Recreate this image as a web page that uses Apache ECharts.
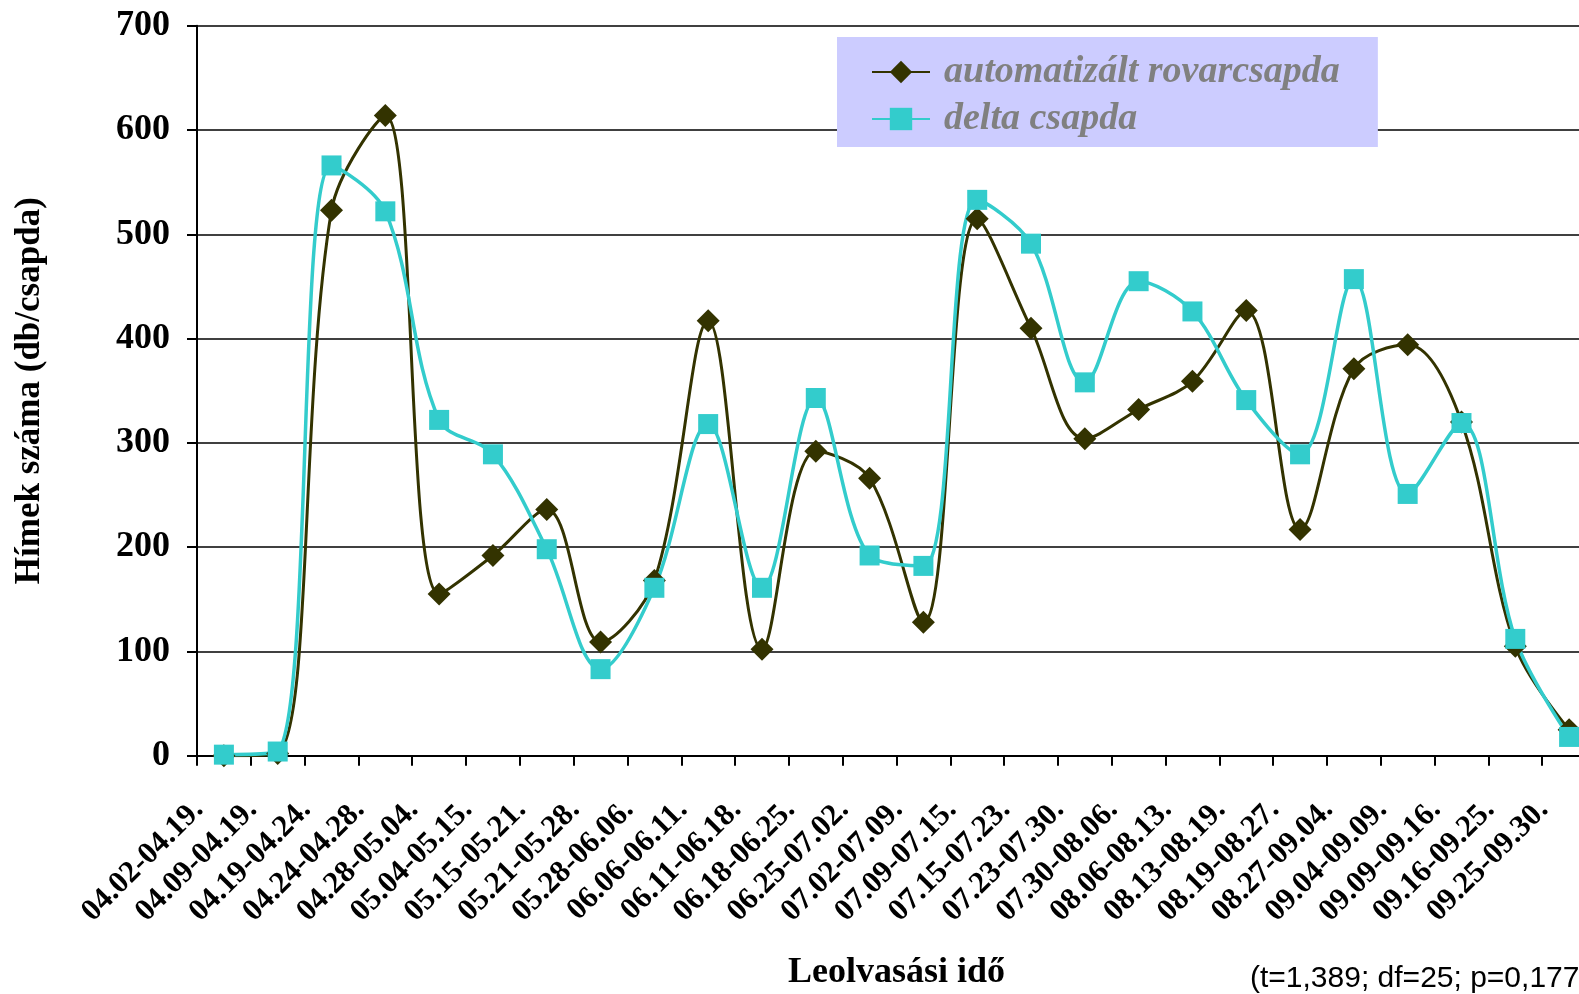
<!DOCTYPE html>
<html>
<head>
<meta charset="utf-8">
<script src="https://cdn.jsdelivr.net/npm/echarts@6/dist/echarts.min.js"></script>
<style>
  html, body { margin: 0; padding: 0; background: #fff; }
  #chart { width: 1579px; height: 994px; }
</style>
</head>
<body>
<div id="chart"></div>
<script>
const periods = ["04.02-04.19.", "04.09-04.19.", "04.19-04.24.", "04.24-04.28.", "04.28-05.04.", "05.04-05.15.", "05.15-05.21.", "05.21-05.28.", "05.28-06.06.", "06.06-06.11.", "06.11-06.18.", "06.18-06.25.", "06.25-07.02.", "07.02-07.09.", "07.09-07.15.", "07.15-07.23.", "07.23-07.30.", "07.30-08.06.", "08.06-08.13.", "08.13-08.19.", "08.19-08.27.", "08.27-09.04.", "09.04-09.09.", "09.09-09.16.", "09.16-09.25.", "09.25-09.30."];
const autoTrap = [0, 2, 523, 614, 155, 192, 236, 109, 168, 417, 102, 292, 266, 128, 515, 410, 304, 332, 359, 427, 217, 371, 394, 320, 105, 25];
const deltaTrap = [1, 4, 566, 522, 322, 289, 198, 83, 161, 318, 161, 343, 192, 182, 533, 491, 358, 455, 426, 341, 289, 457, 251, 319, 112, 18];
const yTicks = [0, 700, 100];

const serif = "'Liberation Serif', 'Times New Roman', serif";
const chart = echarts.init(document.getElementById("chart"));

chart.setOption({
  animation: false,
  // plot runs past the right edge of the picture, as in the original
  grid: { left: 197, width: 1399, top: 25.7, bottom: 238.3, outerBoundsMode: "none" },
  legend: {
    orient: "vertical",
    left: 837,
    top: 37,
    backgroundColor: "#CCCCFF",
    padding: [16, 38, 9, 34],
    itemGap: 9,
    itemWidth: 58,
    itemHeight: 28,
    textStyle: { fontFamily: serif, fontSize: 38, fontStyle: "italic", fontWeight: "bold", color: "#808080", padding: [0, 0, 0, 9] },
  },
  xAxis: {
    type: "category",
    data: periods,
    boundaryGap: true,
    name: "Leolvasási idő",
    nameLocation: "middle",
    nameGap: 199,
    nameTextStyle: { fontFamily: serif, fontSize: 36, fontWeight: "bold", color: "#000" },
    axisLine: { lineStyle: { color: "#000", width: 2 } },
    axisTick: { show: true, length: 10, lineStyle: { color: "#000", width: 2 } },
    axisLabel: {
      interval: 0,
      rotate: 45,
      margin: 24,
      padding: [0, 36, 0, 0],
      fontFamily: serif,
      fontSize: 31,
      fontWeight: "bold",
      color: "#000",
    },
  },
  yAxis: {
    type: "value",
    min: yTicks[0],
    max: yTicks[1],
    interval: yTicks[2],
    name: "Hímek száma (db/csapda)",
    nameLocation: "middle",
    nameGap: 150,
    nameTextStyle: { fontFamily: serif, fontSize: 35, fontWeight: "bold", color: "#000" },
    axisLine: { show: true, lineStyle: { color: "#000", width: 2 } },
    axisTick: { show: true, length: 10, lineStyle: { color: "#000", width: 2 } },
    axisLabel: { margin: 27, fontFamily: serif, fontSize: 36, fontWeight: "bold", color: "#000" },
    splitLine: { lineStyle: { color: "#000", width: 1.5 } },
  },
  series: [
    {
      name: "automatizált rovarcsapda",
      type: "line",
      data: autoTrap,
      smooth: 0.35,
      symbol: "diamond",
      symbolSize: 23,
      color: "#333300",
      lineStyle: { color: "#333300", width: 3 },
      itemStyle: { color: "#333300" },
    },
    {
      name: "delta csapda",
      type: "line",
      data: deltaTrap,
      smooth: 0.35,
      symbol: "rect",
      symbolSize: 20,
      color: "#33CCCC",
      lineStyle: { color: "#33CCCC", width: 3.5 },
      itemStyle: { color: "#33CCCC" },
    },
  ],
  graphic: [
    {
      type: "text",
      left: 1250,
      top: 964,
      style: { text: "(t=1,389; df=25; p=0,177)", fontFamily: "'Liberation Sans', Arial, sans-serif", fontSize: 30, fill: "#000" },
    },
  ],
});
</script>
</body>
</html>
